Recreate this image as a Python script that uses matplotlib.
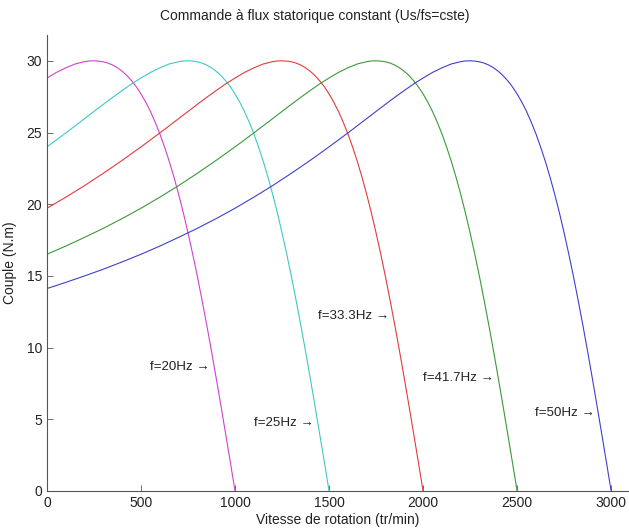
import matplotlib
matplotlib.use("Agg")
import matplotlib.pyplot as plt
import numpy as np

plt.rcParams['font.family'] = ['Liberation Sans', 'DejaVu Sans']

# Torque (N.m) read against slip speed (tr/min) = synchronous speed - rotor speed
slip_speed = [0, 25, 50, 75, 100, 125, 150, 175, 200, 225, 250, 275, 300, 325, 350, 375, 400,
              425, 450, 475, 500, 525, 550, 575, 600, 625, 650, 675, 700, 725, 750, 775, 800,
              850, 900, 950, 1000, 1050, 1100, 1150, 1200, 1300, 1400, 1500, 1600, 1700,
              1800, 1900, 2000, 2100, 2200, 2300, 2400, 2500, 2600, 2700, 2800, 2900, 3000]
torque = [0, 2.0, 3.98, 5.94, 7.86, 9.73, 11.54, 13.27, 14.94, 16.51, 18.0, 19.40, 20.69,
          21.89, 22.99, 23.99, 24.91, 25.73, 26.47, 27.12, 27.69, 28.19, 28.61, 28.97,
          29.27, 29.51, 29.70, 29.84, 29.93, 29.98, 30.0, 29.99, 29.94, 29.78, 29.51,
          29.19, 28.8, 28.39, 27.93, 27.46, 26.97, 25.97, 24.97, 24.0, 23.06, 22.16,
          21.30, 20.49, 19.72, 19.00, 18.32, 17.69, 17.08, 16.51, 15.98, 15.47, 15.00,
          14.55, 14.12]

sync_speeds = [1000, 1500, 2000, 2500, 3000]
freq_labels = ["f=20Hz \u2192", "f=25Hz \u2192", "f=33.3Hz \u2192", "f=41.7Hz \u2192", "f=50Hz \u2192"]
label_x = [867, 1420, 1819, 2378, 2915]
label_y = [8.65, 4.75, 12.2, 7.9, 5.44]
colors = ['#cc44cc', '#40c8c8', '#e03c3c', '#3a9a3a', '#4040cc']

fig = plt.figure(figsize=(6.29, 5.32), dpi=100)
ax = fig.add_axes([47/629, 1 - 491/532, (629 - 47)/629, (491 - 35)/532])

slip = np.array(slip_speed)
tq = np.array(torque)
for ns, c in zip(sync_speeds, colors):
    m = slip <= ns
    ax.plot(ns - slip[m], tq[m], color=c, lw=0.8)

for t, x, y in zip(freq_labels, label_x, label_y):
    ax.text(x, y, t, ha='right', va='center', fontsize=9.6, color='#222222')

ax.set_xlim(0, 3095)
ax.set_ylim(0, 31.8)
ax.set_xticks([0, 500, 1000, 1500, 2000, 2500, 3000])
ax.set_yticks([0, 5, 10, 15, 20, 25, 30])
ax.spines['top'].set_visible(False)
ax.spines['right'].set_visible(False)
for s in ('left', 'bottom'):
    ax.spines[s].set_color('#555555')
    ax.spines[s].set_linewidth(0.8)
ax.tick_params(direction='in', length=4, width=0.6, colors='#555555', labelcolor='#222222', labelsize=10)
ax.set_xlabel("Vitesse de rotation (tr/min)", fontsize=10, color='#222222', labelpad=2)
ax.set_ylabel("Couple (N.m)", fontsize=10, color='#222222', labelpad=7)
fig.text(0.5, 1 - 16/532, "Commande \u00e0 flux statorique constant (Us/fs=cste)",
         ha='center', va='center', fontsize=10, color='#222222')

fig.savefig("out.png", dpi=100)
